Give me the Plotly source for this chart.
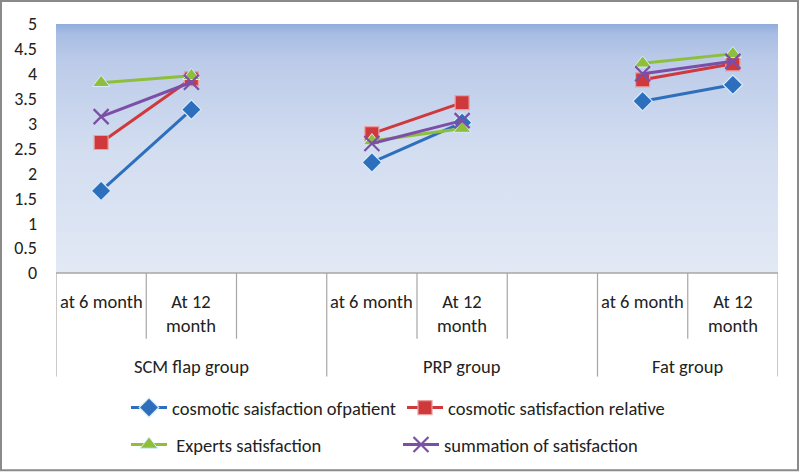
import plotly.graph_objects as go

# ---- data ----
sub_labels = ["at 6 month", "At 12<br>month", "", "at 6 month", "At 12<br>month", "", "at 6 month", "At 12<br>month"]
groups = ["SCM flap group", "PRP group", "Fat group"]
group_slots = [[0, 1, 2], [3, 4, 5], [6, 7]]
x_idx = list(range(8))

patient = [1.65, 3.28, None, 2.22, 3.02, None, 3.45, 3.78]
relative = [2.62, 3.90, None, 2.80, 3.42, None, 3.88, 4.20]
experts = [3.82, 3.96, None, 2.65, 2.90, None, 4.21, 4.40]
summation = [3.14, 3.83, None, 2.60, 3.06, None, 4.00, 4.25]

series_names = ["cosmotic saisfaction ofpatient", "cosmotic satisfaction relative",
                " Experts satisfaction", "summation of satisfaction"]
y_ticks = [0, 0.5, 1, 1.5, 2, 2.5, 3, 3.5, 4, 4.5, 5]
y_tick_text = ["0", "0.5", "1", "1.5", "2", "2.5", "3", "3.5", "4", "4.5", "5"]

FONT = "Carlito, Liberation Sans Narrow, Liberation Sans, Arial"
W, H = 800, 474
ML, MR, MT, MB = 56, 22, 24, 200
PW, PH = W - ML - MR, H - MT - MB
TXT = 18.5


def fy(py):
    return (H - MB - py) / PH


def fx(px):
    return (px - ML) / PW


fig = go.Figure()

# plot-area gradient background
fig.add_trace(go.Scatter(
    x=[-0.5, 7.5, 7.5, -0.5, -0.5], y=[0, 0, 5, 5, 0],
    mode="lines", line=dict(width=0), fill="toself",
    fillgradient=dict(type="vertical",
                      colorscale=[[0, "#e2e9f5"], [0.5, "#d2ddf0"], [0.85, "#bccbe9"],
                                  [0.96, "#a8bde3"], [1, "#90acdb"]]),
    hoverinfo="skip", showlegend=False))

glow = "#d6ecfa"
specs = [
    (patient, "#2e6fbd", dict(symbol="diamond", size=15, line=dict(color=glow, width=1.2)), "legend"),
    (relative, "#d0393b", dict(symbol="square", size=14, line=dict(color="#e9a0a0", width=1.2)), "legend2"),
    (experts, "#8dbf3c", dict(symbol="triangle-up", size=15, line=dict(color=glow, width=1)), "legend3"),
    (summation, "#7b4fa6", dict(symbol="x-thin", size=15, line=dict(color="#7b4fa6", width=2.2)), "legend4"),
]
for (vals, col, mk, lg), name in zip(specs, series_names):
    mk = dict(mk)
    mk["color"] = col
    fig.add_trace(go.Scatter(
        x=x_idx, y=vals, name=name, mode="lines+markers",
        line=dict(color=col, width=3), marker=mk,
        connectgaps=False, legend=lg))

shapes = []
# x axis baseline
shapes.append(dict(type="line", xref="x", yref="paper", x0=-0.5, x1=7.5, y0=0, y1=0,
                   line=dict(color="#a6a6a6", width=1.5)))
# category dividers
for i in range(9):
    xb = i - 0.5
    is_group_edge = xb in (-0.5, 2.5, 5.5, 7.5)
    shapes.append(dict(type="line", xref="x", yref="paper", x0=xb, x1=xb, y0=0,
                       y1=fy(378) if is_group_edge else fy(340),
                       line=dict(color="#a6a6a6", width=1.2)))
# outer border
shapes.append(dict(type="rect", xref="paper", yref="paper",
                   x0=fx(1), x1=fx(798), y0=fy(472), y1=fy(1),
                   line=dict(color="#8a8a8a", width=2)))

annotations = []
for i, lab in enumerate(sub_labels):
    if lab:
        annotations.append(dict(x=i, y=fy(289), xref="x", yref="paper", text=lab,
                                showarrow=False, yanchor="top",
                                font=dict(family=FONT, size=TXT, color="#222")))
for g, slots in zip(groups, group_slots):
    cx = (slots[0] + slots[-1]) / 2
    annotations.append(dict(x=cx, y=fy(368), xref="x", yref="paper", text=g,
                            showarrow=False, yanchor="middle",
                            font=dict(family=FONT, size=TXT, color="#222")))


def leg(px, py):
    return dict(orientation="h", x=fx(px), xanchor="left", y=fy(py), yanchor="middle",
                bgcolor="rgba(0,0,0,0)", itemwidth=36,
                font=dict(family=FONT, size=TXT, color="#222"))


fig.update_layout(
    width=W, height=H,
    margin=dict(l=ML, r=MR, t=MT, b=MB),
    paper_bgcolor="white", plot_bgcolor="rgba(0,0,0,0)",
    font=dict(family=FONT, size=TXT, color="#222"),
    xaxis=dict(range=[-0.5, 7.5], showticklabels=False, showgrid=False, zeroline=False,
               showline=False, ticks="", fixedrange=True),
    yaxis=dict(range=[0, 5], tickvals=y_ticks, ticktext=y_tick_text, showgrid=False,
               zeroline=False, showline=False, ticks="", ticklabelstandoff=18,
               tickfont=dict(family=FONT, size=18, color="#222")),
    shapes=shapes, annotations=annotations,
    legend=leg(126, 408),
    legend2=leg(402, 408),
    legend3=leg(126, 445),
    legend4=leg(398, 445),
)

fig.write_html("out.html")
